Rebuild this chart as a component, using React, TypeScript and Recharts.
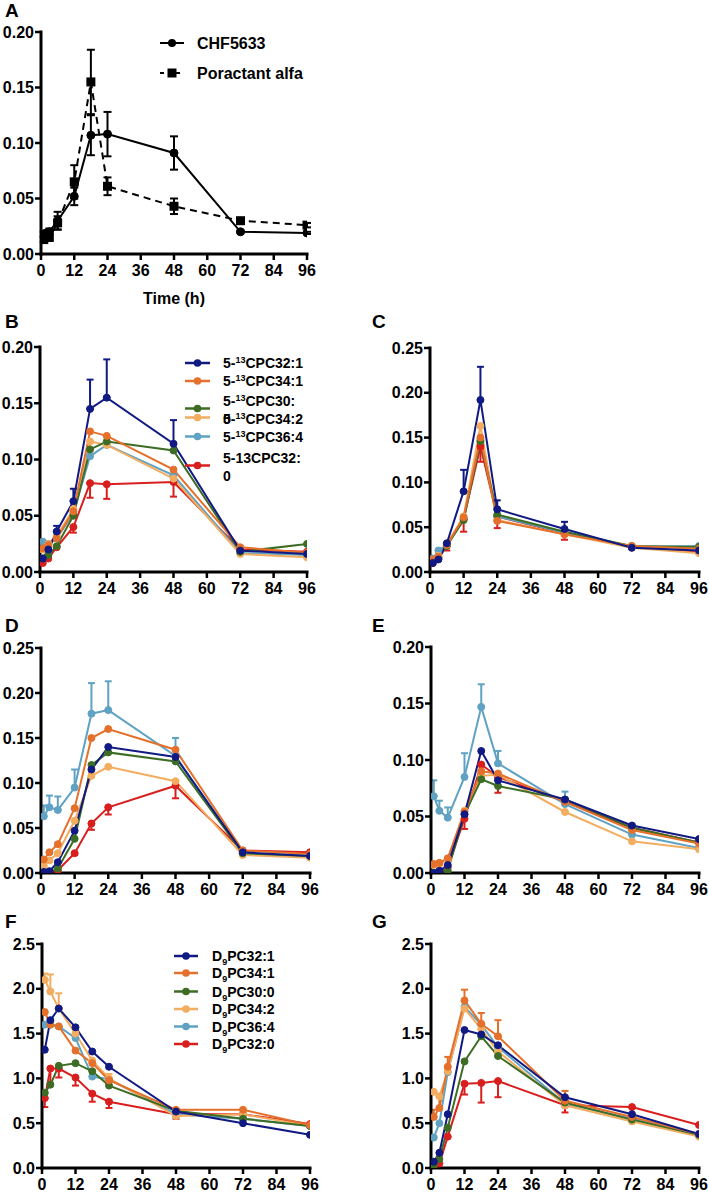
import React from "react"
import { LineChart, Line, XAxis, YAxis, ErrorBar, Label } from "recharts"

const FONT = "'Liberation Sans', Arial, Helvetica, sans-serif"

// sampling times (h)
const timesA = [1, 2, 3, 6, 12, 18, 24, 48, 72, 96]
const times = [1, 3, 6, 12, 18, 24, 48, 72, 96]
const xTicks = [0, 12, 24, 36, 48, 60, 72, 84, 96]
const yTicks020 = [0, 0.05, 0.1, 0.15, 0.2]
const yTicks025 = [0, 0.05, 0.1, 0.15, 0.2, 0.25]
const yTicks25 = [0, 0.5, 1, 1.5, 2, 2.5]

// A
const chf5633 = [0.018, 0.019, 0.02, 0.03, 0.052, 0.107, 0.108, 0.091, 0.02, 0.019]
const chf5633Err = [0.002, 0.002, 0.003, 0.008, 0.008, 0.018, 0.02, 0.015, 0.001, 0.001]
const poractant = [0.013, 0.015, 0.015, 0.028, 0.065, 0.155, 0.061, 0.043, 0.03, 0.026]
const poractantErr = [0.002, 0.003, 0.003, 0.006, 0.015, 0.029, 0.008, 0.007, 0.001, 0.002]

// B
const bPC321 = [0.012, 0.02, 0.036, 0.063, 0.145, 0.155, 0.114, 0.019, 0.016]
const bPC341 = [0.021, 0.024, 0.03, 0.054, 0.125, 0.121, 0.091, 0.022, 0.017]
const bPC300 = [0.012, 0.015, 0.023, 0.05, 0.109, 0.116, 0.108, 0.018, 0.025]
const bPC342 = [0.02, 0.025, 0.032, 0.056, 0.116, 0.113, 0.083, 0.016, 0.013]
const bPC364 = [0.027, 0.025, 0.03, 0.052, 0.103, 0.113, 0.086, 0.017, 0.015]
const bPC320 = [0.008, 0.012, 0.022, 0.04, 0.079, 0.078, 0.08, 0.02, 0.018]
const bErrPC321 = [null, 0.004, 0.005, 0.011, 0.026, 0.034, 0.021, null, null]
const bErrPC320 = [null, null, null, 0.005, 0.013, 0.013, 0.013, null, null]

// C
const cPC321 = [0.01, 0.014, 0.032, 0.09, 0.192, 0.07, 0.048, 0.027, 0.024]
const cPC341 = [0.014, 0.017, 0.03, 0.061, 0.15, 0.057, 0.042, 0.029, 0.026]
const cPC300 = [0.012, 0.016, 0.029, 0.058, 0.146, 0.064, 0.045, 0.029, 0.028]
const cPC342 = [0.013, 0.018, 0.031, 0.062, 0.163, 0.058, 0.042, 0.027, 0.021]
const cPC364 = [0.015, 0.024, 0.03, 0.06, 0.148, 0.062, 0.044, 0.028, 0.029]
const cPC320 = [0.01, 0.015, 0.03, 0.059, 0.14, 0.062, 0.043, 0.028, 0.022]
const cErrPC321 = [null, null, null, 0.024, 0.037, 0.01, 0.008, null, null]
const cErrPC320 = [null, null, 0.006, 0.014, 0.017, 0.013, 0.007, null, null]

// D
const dPC321 = [0.001, 0.002, 0.012, 0.047, 0.115, 0.14, 0.129, 0.023, 0.019]
const dPC341 = [0.015, 0.023, 0.032, 0.072, 0.15, 0.16, 0.137, 0.025, 0.021]
const dPC300 = [0.001, 0.001, 0.005, 0.038, 0.12, 0.134, 0.124, 0.022, 0.019]
const dPC342 = [0.008, 0.014, 0.022, 0.058, 0.108, 0.118, 0.102, 0.02, 0.017]
const dPC364 = [0.063, 0.073, 0.07, 0.095, 0.177, 0.181, 0.13, 0.022, 0.018]
const dPC320 = [0.0, 0.0, 0.003, 0.022, 0.055, 0.073, 0.097, 0.025, 0.023]
const dErrPC364 = [0.012, 0.013, 0.015, 0.02, 0.034, 0.032, 0.02, null, null]
const dErrPC320 = [null, null, null, 0.002, 0.007, 0.008, 0.014, null, null]

// E
const ePC321 = [0.0, 0.002, 0.007, 0.052, 0.108, 0.082, 0.065, 0.042, 0.03]
const ePC341 = [0.008, 0.009, 0.013, 0.054, 0.09, 0.088, 0.063, 0.038, 0.026]
const ePC300 = [0.0, 0.001, 0.002, 0.052, 0.083, 0.077, 0.065, 0.04, 0.027]
const ePC342 = [0.007, 0.008, 0.012, 0.055, 0.086, 0.087, 0.054, 0.028, 0.021]
const ePC364 = [0.068, 0.055, 0.049, 0.085, 0.147, 0.097, 0.061, 0.034, 0.022]
const ePC320 = [0.0, 0.001, 0.005, 0.048, 0.096, 0.085, 0.063, 0.04, 0.027]
const eErrPC364 = [0.014, 0.009, 0.009, 0.021, 0.02, 0.011, 0.011, null, null]
const eErrPC320 = [null, null, null, 0.009, 0.005, 0.014, null, null, null]

// F
const fPC321 = [1.32, 1.65, 1.78, 1.57, 1.3, 1.13, 0.63, 0.5, 0.37]
const fPC341 = [1.74, 1.6, 1.58, 1.31, 1.17, 0.98, 0.65, 0.65, 0.48]
const fPC300 = [0.84, 0.93, 1.14, 1.17, 1.08, 0.92, 0.64, 0.55, 0.47]
const fPC342 = [2.1, 1.97, 1.78, 1.5, 1.2, 1.0, 0.58, 0.6, 0.47]
const fPC364 = [1.6, 1.6, 1.58, 1.45, 1.02, 0.99, 0.6, 0.55, 0.47]
const fPC320 = [0.78, 1.11, 1.11, 1.01, 0.83, 0.74, 0.6, 0.6, 0.49]
const fErrPC342 = [0.07, 0.19, 0.17, null, null, 0.05, null, null, null]
const fErrPC320 = [0.1, 0.16, 0.1, 0.09, 0.09, 0.07, 0.05, null, null]

// G
const gPC321 = [0.07, 0.17, 0.6, 1.54, 1.49, 1.37, 0.79, 0.6, 0.38]
const gPC341 = [0.57, 0.67, 1.13, 1.87, 1.61, 1.47, 0.75, 0.57, 0.38]
const gPC300 = [0.03, 0.1, 0.45, 1.19, 1.47, 1.25, 0.73, 0.54, 0.37]
const gPC342 = [0.85, 0.8, 1.08, 1.78, 1.55, 1.3, 0.7, 0.52, 0.35]
const gPC364 = [0.34, 0.5, 1.07, 1.8, 1.6, 1.35, 0.72, 0.55, 0.37]
const gPC320 = [0.01, 0.05, 0.35, 0.94, 0.95, 0.97, 0.7, 0.68, 0.48]
const gErrPC341 = [0.08, 0.13, 0.11, 0.12, 0.12, 0.18, 0.11, null, null]
const gErrPC320 = [null, null, null, 0.12, 0.22, 0.18, 0.08, null, null]

const COLORS: Record<string, string> = {
  pc321: "#101a82",
  pc341: "#e5702b",
  pc300: "#3d6d24",
  pc342: "#f2ad60",
  pc364: "#5fa2c3",
  pc320: "#d91e1e",
}
const DRAW_ORDER = ["pc320", "pc364", "pc342", "pc300", "pc341", "pc321"]

type Err = { key: string; dir: "up" | "down" | "both"; values: (number | null)[] }

function makeRows(t: number[], series: Record<string, number[]>, errs: Err[]) {
  return t.map((time, i) => {
    const row: Record<string, any> = { time }
    Object.keys(series).forEach((k) => {
      row[k] = series[k][i]
    })
    errs.forEach((e) => {
      const v = e.values[i]
      row[e.key + "Err"] = v == null ? null : e.dir === "up" ? [0, v] : e.dir === "down" ? [v, 0] : [v, v]
    })
    return row
  })
}

const rowsA = makeRows(timesA, { chf: chf5633, por: poractant }, [
  { key: "chf", dir: "both", values: chf5633Err },
  { key: "por", dir: "both", values: poractantErr },
])
const rowsB = makeRows(times, { pc321: bPC321, pc341: bPC341, pc300: bPC300, pc342: bPC342, pc364: bPC364, pc320: bPC320 }, [
  { key: "pc321", dir: "up", values: bErrPC321 },
  { key: "pc320", dir: "down", values: bErrPC320 },
])
const rowsC = makeRows(times, { pc321: cPC321, pc341: cPC341, pc300: cPC300, pc342: cPC342, pc364: cPC364, pc320: cPC320 }, [
  { key: "pc321", dir: "up", values: cErrPC321 },
  { key: "pc320", dir: "down", values: cErrPC320 },
])
const rowsD = makeRows(times, { pc321: dPC321, pc341: dPC341, pc300: dPC300, pc342: dPC342, pc364: dPC364, pc320: dPC320 }, [
  { key: "pc364", dir: "up", values: dErrPC364 },
  { key: "pc320", dir: "down", values: dErrPC320 },
])
const rowsE = makeRows(times, { pc321: ePC321, pc341: ePC341, pc300: ePC300, pc342: ePC342, pc364: ePC364, pc320: ePC320 }, [
  { key: "pc364", dir: "up", values: eErrPC364 },
  { key: "pc320", dir: "down", values: eErrPC320 },
])
const rowsF = makeRows(times, { pc321: fPC321, pc341: fPC341, pc300: fPC300, pc342: fPC342, pc364: fPC364, pc320: fPC320 }, [
  { key: "pc342", dir: "up", values: fErrPC342 },
  { key: "pc320", dir: "down", values: fErrPC320 },
])
const rowsG = makeRows(times, { pc321: gPC321, pc341: gPC341, pc300: gPC300, pc342: gPC342, pc364: gPC364, pc320: gPC320 }, [
  { key: "pc341", dir: "up", values: gErrPC341 },
  { key: "pc320", dir: "down", values: gErrPC320 },
])

const TICK = { fill: "#000", fontSize: 16, fontWeight: 700, fontFamily: FONT }
const AXIS = { stroke: "#000", strokeWidth: 3, strokeLinecap: "square" as const }
const TICKLINE = { stroke: "#000", strokeWidth: 2.5 }

function seriesLines(errKeys: string[]) {
  return DRAW_ORDER.map((k) => (
    <Line
      key={k}
      type="linear"
      dataKey={k}
      stroke={COLORS[k]}
      strokeWidth={2}
      dot={{ r: 3.5, fill: COLORS[k], stroke: COLORS[k], strokeWidth: 1 }}
      activeDot={false}
      isAnimationActive={false}
    >
      {errKeys.includes(k) && (
        <ErrorBar dataKey={k + "Err"} direction="y" width={3.5} strokeWidth={2} stroke={COLORS[k]} />
      )}
    </Line>
  ))
}

const SquareDot = (props: any) => {
  const { cx, cy, index } = props
  if (cx == null || cy == null) return <g key={`sq-${index}`} />
  return <rect key={`sq-${index}`} x={cx - 4.5} y={cy - 4.5} width={9} height={9} fill="#000" />
}

function Panel(props: {
  left: number
  top: number
  plot: [number, number, number, number]
  rows: any[]
  yMax: number
  yTicks: number[]
  digits: number
  xLabel?: string
  children: any
}) {
  const { left, top, plot, rows, yMax, yTicks, digits, xLabel, children } = props
  const [x0, y0, x1, y1] = plot
  const xh = xLabel ? 58 : 36
  return (
    <div style={{ position: "absolute", left, top }}>
      <LineChart
        width={x1 - left + 10}
        height={y1 - top + xh}
        data={rows}
        margin={{ top: y0 - top, right: 10, bottom: 0, left: 0 }}
      >
        <XAxis
          dataKey="time"
          type="number"
          domain={[0, 96]}
          ticks={xTicks}
          interval={0}
          allowDataOverflow
          height={xh}
          tick={TICK}
          tickSize={6}
          tickMargin={5}
          axisLine={AXIS}
          tickLine={TICKLINE}
        >
          {xLabel && (
            <Label value={xLabel} position="insideBottom" offset={8} fill="#000" fontSize={16} fontWeight={700} fontFamily={FONT} />
          )}
        </XAxis>
        <YAxis
          type="number"
          domain={[0, yMax]}
          ticks={yTicks}
          interval={0}
          allowDataOverflow
          width={x0 - left}
          tick={TICK}
          tickSize={6}
          tickMargin={1}
          tickFormatter={(v: number) => v.toFixed(digits)}
          axisLine={AXIS}
          tickLine={TICKLINE}
        />
        {children}
      </LineChart>
    </div>
  )
}

function Iso(props: { x: number; y: number; pre: string; sup: string; rest: string; sub?: boolean; size?: number }) {
  const { x, y, pre, sup, rest, sub, size = 14 } = props
  const shift = sub ? 4 : -5
  return (
    <text x={x} y={y} fontSize={size} fontWeight={700} fontFamily={FONT} fill="#000">
      <tspan>{pre}</tspan>
      <tspan dy={shift} fontSize={9}>{sup}</tspan>
      <tspan dy={-shift}>{rest}</tspan>
    </text>
  )
}

function Mark(props: { x1: number; x2: number; y: number; color: string }) {
  const { x1, x2, y, color } = props
  return (
    <g>
      <line x1={x1} x2={x2} y1={y} y2={y} stroke={color} strokeWidth={2.5} />
      <circle cx={(x1 + x2) / 2} cy={y} r={3.8} fill={color} />
    </g>
  )
}

function Overlay() {
  const letter = (ch: string, x: number, y: number) => (
    <text x={x} y={y} fontSize={19} fontWeight={700} fontFamily={FONT} fill="#000">
      {ch}
    </text>
  )
  const fRows = [
    { k: "pc321", y: 956, t: "PC32:1" },
    { k: "pc341", y: 973, t: "PC34:1" },
    { k: "pc300", y: 991.5, t: "PC30:0" },
    { k: "pc342", y: 1009, t: "PC34:2" },
    { k: "pc364", y: 1026.5, t: "PC36:4" },
    { k: "pc320", y: 1044, t: "PC32:0" },
  ]
  return (
    <svg width={709} height={1194} style={{ position: "absolute", left: 0, top: 0, pointerEvents: "none" }}>
      {letter("A", 5, 17)}
      {letter("B", 5, 328)}
      {letter("C", 372, 328)}
      {letter("D", 5, 632)}
      {letter("E", 372, 632)}
      {letter("F", 5, 928)}
      {letter("G", 372, 928)}

      {/* legend A */}
      <line x1={160} x2={184} y1={43} y2={43} stroke="#000" strokeWidth={2} />
      <circle cx={172} cy={43} r={4} fill="#000" />
      <text x={197} y={49} fontSize={16} fontWeight={700} fontFamily={FONT} fill="#000">CHF5633</text>
      <line x1={160} x2={184} y1={73} y2={73} stroke="#000" strokeWidth={2} strokeDasharray="4 4" />
      <rect x={167.5} y={68.5} width={9} height={9} fill="#000" />
      <text x={197} y={79} fontSize={16} fontWeight={700} fontFamily={FONT} fill="#000">Poractant alfa</text>

      {/* legend B */}
      <Mark x1={185} x2={210} y={363} color={COLORS.pc321} />
      <Iso x={223} y={368} pre="5-" sup="13" rest="CPC32:1" />
      <Mark x1={185} x2={210} y={381} color={COLORS.pc341} />
      <Iso x={223} y={386} pre="5-" sup="13" rest="CPC34:1" />
      <Mark x1={185} x2={210} y={408.5} color={COLORS.pc300} />
      <Iso x={223} y={406} pre="5-" sup="13" rest="CPC30:" />
      <text x={223} y={424} fontSize={14} fontWeight={700} fontFamily={FONT} fill="#000">0</text>
      <Mark x1={185} x2={210} y={417.5} color={COLORS.pc342} />
      <Iso x={223} y={424} pre="5-" sup="13" rest="CPC34:2" />
      <Mark x1={185} x2={210} y={436.5} color={COLORS.pc364} />
      <Iso x={223} y={442} pre="5-" sup="13" rest="CPC36:4" />
      <Mark x1={185} x2={210} y={465.5} color={COLORS.pc320} />
      <text x={223} y={463} fontSize={14} fontWeight={700} fontFamily={FONT} fill="#000">5-13CPC32:</text>
      <text x={223} y={481} fontSize={14} fontWeight={700} fontFamily={FONT} fill="#000">0</text>

      {/* legend F */}
      {fRows.map((r) => (
        <g key={r.k}>
          <Mark x1={174} x2={198} y={r.y} color={COLORS[r.k]} />
          <Iso x={212} y={r.y + 5} pre="D" sup="9" rest={r.t} sub />
        </g>
      ))}
    </svg>
  )
}

export default function App() {
  return (
    <div style={{ position: "absolute", left: 0, top: 0, width: 709, height: 1194, background: "#fff" }}>
      <Panel left={0} top={15} plot={[41, 32, 307, 254]} rows={rowsA} yMax={0.2} yTicks={yTicks020} digits={2} xLabel="Time (h)">
        <Line
          type="linear"
          dataKey="por"
          stroke="#000"
          strokeWidth={2}
          strokeDasharray="7 5"
          dot={SquareDot}
          activeDot={false}
          isAnimationActive={false}
        >
          <ErrorBar dataKey="porErr" direction="y" width={4} strokeWidth={2} stroke="#000" />
        </Line>
        <Line
          type="linear"
          dataKey="chf"
          stroke="#000"
          strokeWidth={2}
          dot={{ r: 4, fill: "#000", stroke: "#000", strokeWidth: 1 }}
          activeDot={false}
          isAnimationActive={false}
        >
          <ErrorBar dataKey="chfErr" direction="y" width={4} strokeWidth={2} stroke="#000" />
        </Line>
      </Panel>

      <Panel left={0} top={330} plot={[40, 347, 307, 572]} rows={rowsB} yMax={0.2} yTicks={yTicks020} digits={2}>
        {seriesLines(["pc321", "pc320"])}
      </Panel>
      <Panel left={350} top={330} plot={[430, 348, 699, 572]} rows={rowsC} yMax={0.25} yTicks={yTicks025} digits={2}>
        {seriesLines(["pc321", "pc320"])}
      </Panel>
      <Panel left={0} top={634} plot={[41, 648, 310, 873]} rows={rowsD} yMax={0.25} yTicks={yTicks025} digits={2}>
        {seriesLines(["pc364", "pc320"])}
      </Panel>
      <Panel left={350} top={634} plot={[431, 647, 699, 873]} rows={rowsE} yMax={0.2} yTicks={yTicks020} digits={2}>
        {seriesLines(["pc364", "pc320"])}
      </Panel>
      <Panel left={0} top={930} plot={[42, 944, 310, 1168]} rows={rowsF} yMax={2.5} yTicks={yTicks25} digits={1}>
        {seriesLines(["pc342", "pc320"])}
      </Panel>
      <Panel left={350} top={930} plot={[431, 944, 699, 1168]} rows={rowsG} yMax={2.5} yTicks={yTicks25} digits={1}>
        {seriesLines(["pc341", "pc320"])}
      </Panel>

      <Overlay />
    </div>
  )
}
